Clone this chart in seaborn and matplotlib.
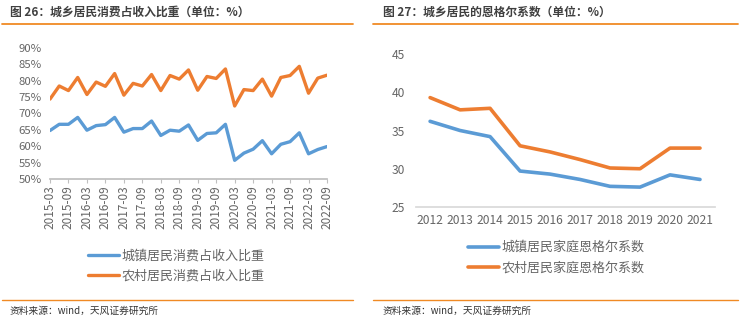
import matplotlib
matplotlib.use("Agg")
import matplotlib.pyplot as plt
from matplotlib.lines import Line2D
import seaborn as sns
import pandas as pd

sns.set_theme(style="white")
plt.rcParams['font.family'] = ['Noto Sans CJK SC', 'DejaVu Sans']

# ---------------- data ----------------
quarters = [f"{y}-{m}" for y in range(2015, 2023) for m in ("03", "06", "09", "12")][:31]
urban_ratio = [64.8, 66.7, 66.7, 68.8, 64.9, 66.3, 66.6, 68.8, 64.3, 65.4, 65.4, 67.7,
               63.3, 64.9, 64.6, 66.5, 61.8, 63.9, 64.1, 66.7, 55.7, 57.9, 59.1, 61.7,
               57.7, 60.6, 61.4, 64.1, 57.7, 59.0, 59.9]
rural_ratio = [74.4, 78.4, 77.0, 81.0, 75.8, 79.6, 78.3, 82.2, 75.6, 79.2, 78.4, 81.9,
               77.0, 81.6, 80.5, 83.3, 77.1, 81.3, 80.7, 83.6, 72.3, 77.3, 77.0, 80.5,
               75.3, 81.0, 81.6, 84.4, 76.2, 80.8, 81.7]
left_labels = ["城镇居民消费占收入比重", "农村居民消费占收入比重"]

years = [str(y) for y in range(2012, 2022)]
urban_engel = [36.2, 35.0, 34.2, 29.7, 29.3, 28.6, 27.7, 27.6, 29.2, 28.6]
rural_engel = [39.3, 37.7, 37.9, 33.0, 32.2, 31.2, 30.1, 30.0, 32.7, 32.7]
right_labels = ["城镇居民家庭恩格尔系数", "农村居民家庭恩格尔系数"]

left_title = "图 26：城乡居民消费占收入比重（单位：%）"
right_title = "图 27：城乡居民的恩格尔系数（单位：%）"
source = "资料来源：wind，天风证券研究所"

BLUE = "#5B9BD5"
ORANGE = "#ED7D31"
GREY = "#666666"
ACCENT = "#F08A24"

W, H = 746, 322
fig = plt.figure(figsize=(W / 100, H / 100), dpi=100)

def box(x0, y0, x1, y1):
    return [x0 / W, 1 - y1 / H, (x1 - x0) / W, (y1 - y0) / H]

# ---------------- left chart ----------------
df_l = pd.DataFrame({
    "idx": list(range(len(quarters))) * 2,
    "val": urban_ratio + rural_ratio,
    "series": [left_labels[0]] * len(quarters) + [left_labels[1]] * len(quarters),
})
ax1 = fig.add_axes(box(50, 48, 327, 179))
sns.lineplot(data=df_l, x="idx", y="val", hue="series", palette=[BLUE, ORANGE],
             linewidth=2.4, ax=ax1, legend=True)
ax1.set_xlim(0, len(quarters) - 1)
ax1.set_ylim(50, 90)
ax1.set_yticks(range(50, 91, 5))
ax1.set_yticklabels([f"{v}%" for v in range(50, 91, 5)])
ticks = list(range(0, len(quarters), 2))
ax1.set_xticks(ticks)
ax1.set_xticklabels([quarters[i] for i in ticks], rotation=90)
ax1.set_xlabel("")
ax1.set_ylabel("")
for s in ("top", "right", "left"):
    ax1.spines[s].set_visible(False)
ax1.spines["bottom"].set_color("#BFBFBF")
ax1.tick_params(axis="x", colors=GREY, labelsize=8.5, length=3, width=0.8,
                direction="out", color="#BFBFBF", pad=1.5, bottom=True)
ax1.tick_params(axis="y", colors=GREY, labelsize=8.2, length=0, pad=6)
h, l = ax1.get_legend_handles_labels()
ax1.legend(h, l, loc="center left", bbox_to_anchor=(88 / W, 1 - 266 / H),
           bbox_transform=fig.transFigure, frameon=False, fontsize=9.4,
           handlelength=2.4, handletextpad=0.2, labelspacing=0.6,
           labelcolor=GREY, borderaxespad=0, borderpad=0)

# ---------------- right chart ----------------
df_r = pd.DataFrame({
    "idx": list(range(len(years))) * 2,
    "val": urban_engel + rural_engel,
    "series": [right_labels[0]] * len(years) + [right_labels[1]] * len(years),
})
ax2 = fig.add_axes(box(416, 54, 715, 207))
sns.lineplot(data=df_r, x="idx", y="val", hue="series", palette=[BLUE, ORANGE],
             linewidth=2.6, ax=ax2, legend=True)
ax2.set_xlim(-0.47, len(years) - 0.5)
ax2.set_ylim(25, 45)
ax2.set_yticks(range(25, 46, 5))
ax2.set_xticks(range(len(years)))
ax2.set_xticklabels(years)
ax2.set_xlabel("")
ax2.set_ylabel("")
for s in ("top", "right", "left"):
    ax2.spines[s].set_visible(False)
ax2.spines["bottom"].set_color("#D9D9D9")
ax2.tick_params(axis="x", colors=GREY, labelsize=8.7, length=0, pad=5)
ax2.tick_params(axis="y", colors=GREY, labelsize=8.7, length=0, pad=8)
h, l = ax2.get_legend_handles_labels()
ax2.legend(h, l, loc="center left", bbox_to_anchor=(468 / W, 1 - 258 / H),
           bbox_transform=fig.transFigure, frameon=False, fontsize=9.4,
           handlelength=2.4, handletextpad=0.2, labelspacing=0.6,
           labelcolor=GREY, borderaxespad=0, borderpad=0)

# ---------------- titles, rules, sources ----------------
fig.text(10 / W, 1 - 12 / H, left_title, fontsize=8.5, fontweight="bold",
         color="#404040", va="center", ha="left")
fig.text(383 / W, 1 - 12 / H, right_title, fontsize=8.5, fontweight="bold",
         color="#404040", va="center", ha="left")
for x0, x1 in ((2, 353), (373, 738)):
    fig.add_artist(Line2D([x0 / W, x1 / W], [1 - 24 / H] * 2, color=ACCENT, lw=1.3,
                          transform=fig.transFigure))
    fig.add_artist(Line2D([x0 / W, x1 / W], [1 - 300 / H] * 2, color=ACCENT, lw=1.0,
                          transform=fig.transFigure))
fig.text(10 / W, 1 - 311 / H, source, fontsize=7, color="#333333", va="center", ha="left")
fig.text(383 / W, 1 - 311 / H, source, fontsize=7, color="#333333", va="center", ha="left")

fig.savefig("out.png", dpi=100)
